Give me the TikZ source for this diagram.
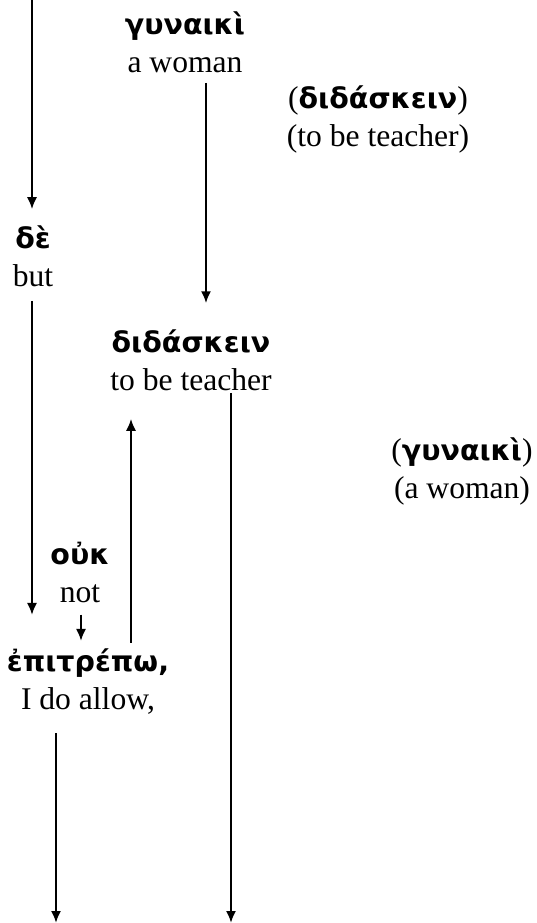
\documentclass[tikz,border=0pt]{standalone}
\usepackage{fontspec}
\setmainfont{Liberation Serif}
\newfontfamily\grk{DejaVu Sans}
\usetikzlibrary{arrows.meta}

\newcommand{\gr}[1]{{\grk\bfseries\fontsize{28.5}{31}\selectfont #1}}

\tikzset{
  word/.style={align=center, inner sep=0pt, font=\fontsize{31.6}{38}\selectfont},
  link/.style={line width=2pt, -{Latex[length=12pt,width=10pt]}},
}

\begin{document}
\begin{tikzpicture}[x=1pt,y=-1pt]
\useasboundingbox (0,0) rectangle (537,923);
% words
\node[word] (gyn) at (185,42) {\gr{γυναικὶ}\\a woman};
\node[word] (didp) at (378,119) {(\gr{διδάσκειν})\\(to be teacher)};
\node[word] (de) at (33,256) {\gr{δὲ}\\but};
\node[word] (did) at (191,360) {\gr{διδάσκειν}\\to be teacher};
\node[word] (gynp) at (462,471) {(\gr{γυναικὶ})\\(a woman)};
\node[word] (ouk) at (80,572) {\gr{οὐκ}\\not};
\node[word] (epi) at (88,682) {\gr{ἐπιτρέπω,}\\I do allow,};
% columns of the arrows
\coordinate (k1) at (32,0);
\coordinate (k2) at (206,0);
\coordinate (k3) at (131,0);
\coordinate (k4) at (231,0);
\coordinate (k5) at (81,0);
\coordinate (k6) at (56,0);
\coordinate (b4) at (231,923);
\coordinate (b6) at (56,923);
% arrows
\draw[link, shorten >=16pt] (k1) -- (de.north -| k1);
\draw[link, shorten <=10pt, shorten >=26pt] (gyn.south -| k2) -- (did.north -| k2);
\draw[link, shorten <=14pt, shorten >=34pt] (de.south -| k1) -- (epi.north -| k1);
\draw[link, shorten <=6pt, shorten >=28pt] (epi.north -| k3) -- (did.south -| k3);
\draw[link, shorten <=2pt] (did.south -| k4) -- (b4);
\draw[link, shorten <=12pt, shorten >=8pt] (ouk.south -| k5) -- (epi.north -| k5);
\draw[link, shorten <=18pt] (epi.south -| k6) -- (b6);
\end{tikzpicture}
\end{document}
